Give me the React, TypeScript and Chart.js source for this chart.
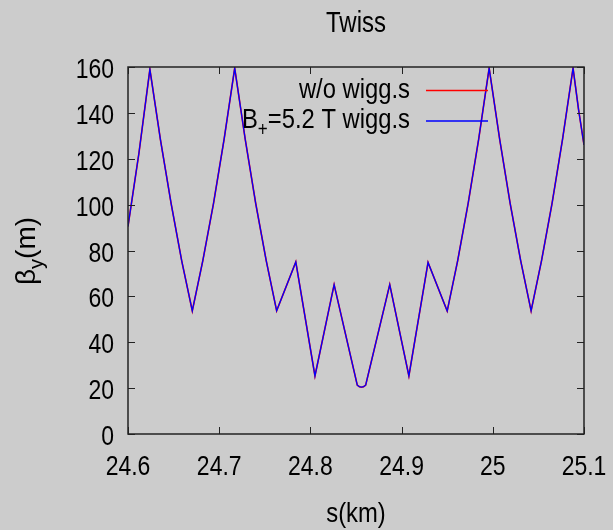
import { useEffect, useRef } from "react";
import { Chart, registerables } from "chart.js";

Chart.register(...registerables);

// Vertical beta function along the ring section (s in km, beta in m)
const sKm = [
  24.6, 24.612, 24.624, 24.6356, 24.6473, 24.6589, 24.6705, 24.6821, 24.6938, 24.7054,
  24.717, 24.7285, 24.74, 24.7515, 24.763, 24.784, 24.805, 24.826, 24.8514, 24.8537,
  24.856, 24.8583, 24.8606, 24.887, 24.908, 24.929, 24.95, 24.9615, 24.973, 24.9845,
  24.996, 25.0075, 25.019, 25.0305, 25.042, 25.0535, 25.065, 25.0765, 25.088, 25.094,
  25.1,
];
const betaNoWiggler = [
  90.5, 122.5, 159, 128.2, 100.4, 75.5, 53.7, 75.7, 100.6, 128.6,
  159.5, 128.6, 100.6, 75.7, 53.7, 75, 25.3, 65.1, 21.3, 20.6,
  20.4, 20.6, 21.3, 65.1, 25.3, 74.8, 53.6, 75.6, 100.6, 128.5,
  159.5, 128.6, 100.6, 75.7, 53.7, 75.7, 100.6, 128.6, 159.5, 141.5,
  126,
];
const betaWiggler = [
  90.5, 122.5, 159, 128.2, 100.4, 75.5, 53.7, 75.7, 100.6, 128.6,
  159.5, 128.6, 100.6, 75.7, 53.7, 75, 25.3, 65.1, 21.3, 20.6,
  20.4, 20.6, 21.3, 65.1, 25.3, 74.8, 53.6, 75.6, 100.6, 128.5,
  159.5, 128.6, 100.6, 75.7, 53.7, 75.7, 100.6, 128.6, 159.5, 141.5,
  126,
];

const xTicks = [24.6, 24.7, 24.8, 24.9, 25, 25.1];
const yTicks = [0, 20, 40, 60, 80, 100, 120, 140, 160];

const FONT = "'Liberation Sans', Arial, sans-serif";
const BG = "#cccccc";
const RED = "#ff0000";
const BLUE = "#0000ff";

const W = 613;
const H = 530;

type Part = { text: string; sub?: boolean };

// Draws text with optional subscripts, horizontally condensed by `squeeze`.
function drawText(
  ctx: CanvasRenderingContext2D,
  parts: Part[],
  x: number,
  y: number,
  size: number,
  align: "left" | "right" | "center",
  squeeze: number
) {
  const subSize = Math.round(size * 0.72);
  const widths = parts.map((p) => {
    ctx.font = `${p.sub ? subSize : size}px ${FONT}`;
    return ctx.measureText(p.text).width;
  });
  const total = widths.reduce((a, b) => a + b, 0);
  let cx = align === "left" ? 0 : align === "right" ? -total : -total / 2;
  ctx.save();
  ctx.translate(x, y);
  ctx.scale(squeeze, 1);
  ctx.textAlign = "left";
  ctx.textBaseline = "alphabetic";
  parts.forEach((p, i) => {
    ctx.font = `${p.sub ? subSize : size}px ${FONT}`;
    ctx.fillText(p.text, cx, p.sub ? size * 0.3 : 0);
    cx += widths[i];
  });
  ctx.restore();
}

const fmtX = (v: number) => String(Number(v.toFixed(1)));

const decorPlugin = {
  id: "decor",
  beforeDraw(chart: any) {
    const ctx = chart.ctx;
    ctx.save();
    ctx.fillStyle = BG;
    ctx.fillRect(0, 0, chart.width, chart.height);
    ctx.restore();
  },
  afterDatasetsDraw(chart: any) {
    const { ctx, chartArea } = chart;
    const { left, right, top, bottom } = chartArea;
    const xs = chart.scales.x;
    const ys = chart.scales.y;
    const tick = 7;
    ctx.save();
    ctx.strokeStyle = "#222222";
    ctx.lineWidth = 1;
    ctx.beginPath();
    xs.ticks.forEach((t: any) => {
      const px = Math.round(xs.getPixelForValue(t.value)) + 0.5;
      ctx.moveTo(px, bottom);
      ctx.lineTo(px, bottom - tick);
      ctx.moveTo(px, top);
      ctx.lineTo(px, top + tick);
    });
    ys.ticks.forEach((t: any) => {
      const py = Math.round(ys.getPixelForValue(t.value)) + 0.5;
      ctx.moveTo(left, py);
      ctx.lineTo(left + tick, py);
      ctx.moveTo(right, py);
      ctx.lineTo(right - tick, py);
    });
    ctx.stroke();
    ctx.lineWidth = 1.5;
    ctx.strokeRect(left, top, right - left, bottom - top);
    ctx.restore();
  },
  afterDraw(chart: any) {
    const { ctx, chartArea } = chart;
    const xs = chart.scales.x;
    const ys = chart.scales.y;
    const midX = (chartArea.left + chartArea.right) / 2;
    ctx.save();
    ctx.fillStyle = "#000000";

    // tick labels
    xs.ticks.forEach((t: any) => {
      drawText(ctx, [{ text: fmtX(t.value) }], xs.getPixelForValue(t.value), 475, 28, "center", 0.82);
    });
    ys.ticks.forEach((t: any) => {
      drawText(ctx, [{ text: String(t.value) }], chartArea.left - 14, ys.getPixelForValue(t.value) + 11, 28, "right", 0.82);
    });

    // title
    drawText(ctx, [{ text: "Twiss" }], midX, 31.5, 30, "center", 0.8);

    // x axis title
    drawText(ctx, [{ text: "s(km)" }], midX, 522, 28, "center", 0.85);

    // y axis title, rotated
    ctx.save();
    ctx.translate(35, 251);
    ctx.rotate(-Math.PI / 2);
    drawText(ctx, [{ text: "β" }, { text: "y", sub: true }, { text: "(m)" }], 0, 0, 28, "center", 1);
    ctx.restore();

    // legend
    const textRight = 410;
    const lineX0 = 426;
    const lineX1 = 488;
    const rows = [
      { parts: [{ text: "w/o wigg.s" }], color: RED, baseline: 97.5, lineY: 90.5 },
      {
        parts: [{ text: "B" }, { text: "+", sub: true }, { text: "=5.2 T wigg.s" }],
        color: BLUE,
        baseline: 128,
        lineY: 121,
      },
    ];
    rows.forEach((r) => {
      ctx.fillStyle = "#000000";
      drawText(ctx, r.parts, textRight, r.baseline, 28, "right", 0.85);
      ctx.strokeStyle = r.color;
      ctx.lineWidth = 1.5;
      ctx.beginPath();
      ctx.moveTo(lineX0, r.lineY);
      ctx.lineTo(lineX1, r.lineY);
      ctx.stroke();
    });
    ctx.restore();
  },
};

export default function App() {
  const canvasRef = useRef<HTMLCanvasElement | null>(null);

  useEffect(() => {
    const canvas = canvasRef.current;
    if (!canvas) return;
    const chart = new Chart(canvas, {
      type: "line",
      data: {
        datasets: [
          {
            label: "w/o wigg.s",
            data: sKm.map((s, i) => ({ x: s, y: betaNoWiggler[i] })),
            borderColor: RED,
            borderWidth: 1.6,
            pointRadius: 0,
            tension: 0,
            order: 1,
          },
          {
            label: "B+=5.2 T wigg.s",
            data: sKm.map((s, i) => ({ x: s, y: betaWiggler[i] })),
            borderColor: BLUE,
            borderWidth: 1.3,
            pointRadius: 0,
            tension: 0,
            order: 0,
          },
        ],
      },
      options: {
        responsive: false,
        animation: false,
        devicePixelRatio: 1,
        layout: { padding: { left: 0, right: W - 584, top: 67, bottom: 0 } },
        plugins: {
          legend: { display: false },
          title: { display: false },
          tooltip: { enabled: false },
        },
        scales: {
          x: {
            type: "linear",
            min: 24.6,
            max: 25.1,
            grid: { display: false, drawTicks: false },
            border: { display: false },
            afterBuildTicks: (scale: any) => {
              scale.ticks = xTicks.map((v) => ({ value: v }));
            },
            afterFit: (scale: any) => {
              scale.height = H - 434;
            },
            ticks: { display: false },
          },
          y: {
            type: "linear",
            min: 0,
            max: 160,
            grid: { display: false, drawTicks: false },
            border: { display: false },
            afterBuildTicks: (scale: any) => {
              scale.ticks = yTicks.map((v) => ({ value: v }));
            },
            afterFit: (scale: any) => {
              scale.width = 128;
            },
            ticks: { display: false },
          },
        },
      },
      plugins: [decorPlugin],
    } as any);
    return () => chart.destroy();
  }, []);

  return (
    <div style={{ position: "fixed", left: 0, top: 0, width: W, height: H, background: BG }}>
      <canvas ref={canvasRef} width={W} height={H} style={{ display: "block" }} />
    </div>
  );
}
